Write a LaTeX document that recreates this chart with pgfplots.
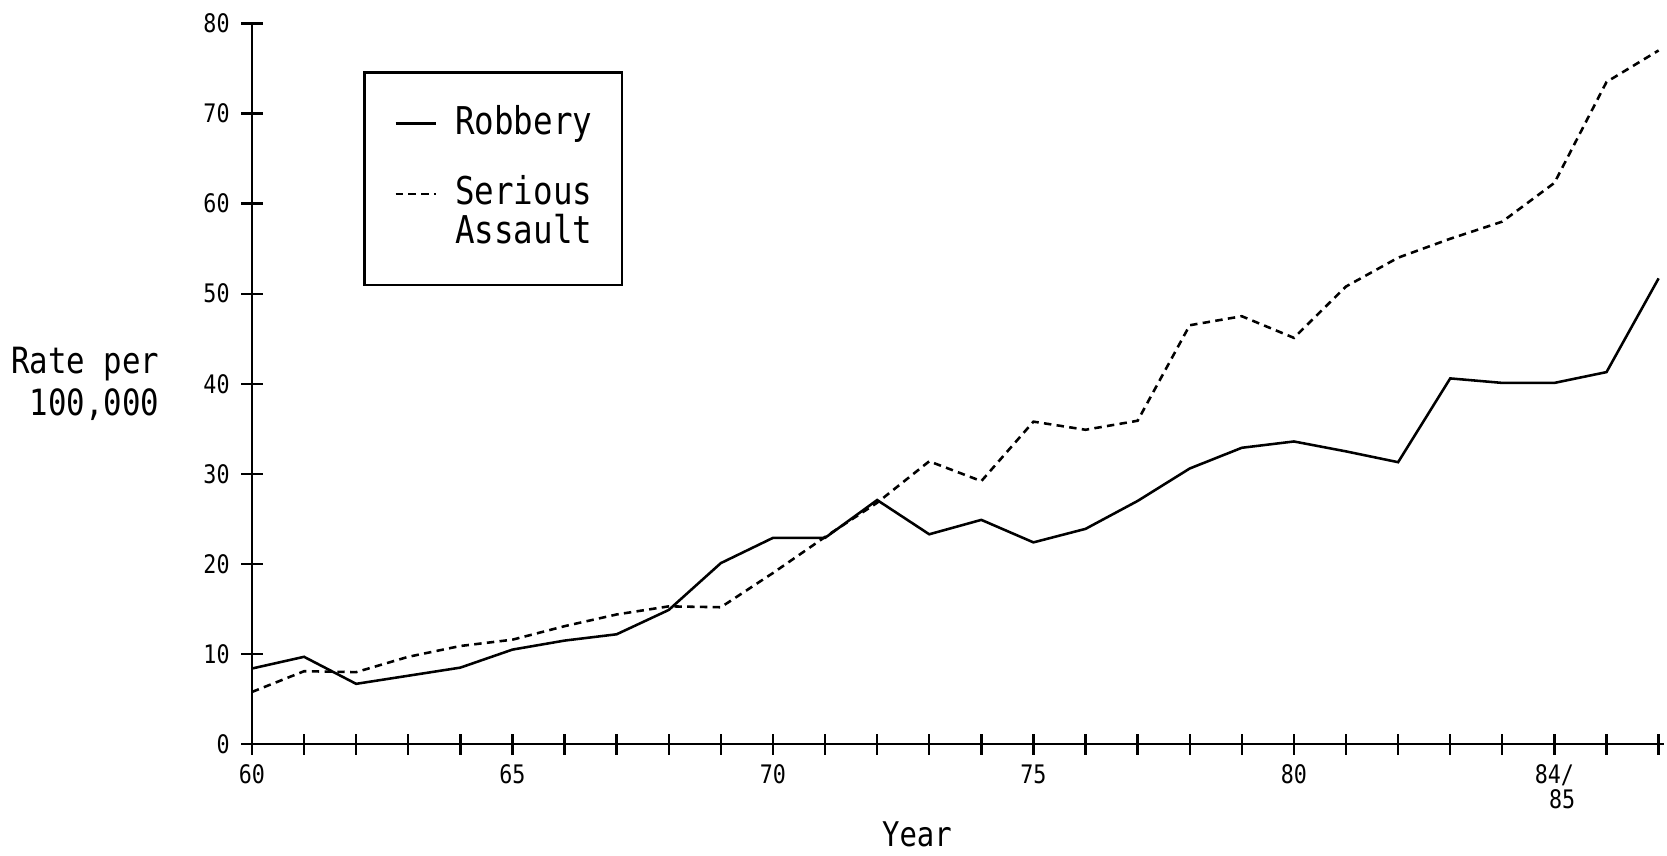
\documentclass[border=0pt]{standalone}
\usepackage{pgfplots}
\pgfplotsset{compat=1.18}
\usepackage{pgfplotstable}
\usepackage{fontspec}
\setmainfont[FakeStretch=0.85]{DejaVu Sans Mono}

\pgfplotstableread{
year rate
60 8.4
61 9.7
62 6.7
63 7.6
64 8.5
65 10.5
66 11.5
67 12.2
68 14.9
69 20.1
70 22.9
71 22.9
72 27.1
73 23.3
74 24.9
75 22.4
76 23.9
77 27.0
78 30.6
79 32.9
80 33.6
81 32.5
82 31.3
83 40.6
84 40.1
85 40.1
86 41.3
87 51.7
}\robbery

\pgfplotstableread{
year rate
60 5.8
61 8.1
62 8.0
63 9.7
64 10.9
65 11.6
66 13.1
67 14.4
68 15.3
69 15.2
70 19.0
71 23.0
72 26.8
73 31.4
74 29.2
75 35.8
76 34.9
77 35.9
78 46.5
79 47.5
80 45.1
81 50.8
82 54.0
83 56.1
84 58.0
85 62.3
86 73.5
87 77.0
}\assault

\begin{document}
\begin{tikzpicture}
\path[use as bounding box] (-118.5pt,-52.5pt) rectangle (665.5pt,350pt);
\begin{axis}[
  at={(0pt,0pt)}, anchor=south west,
  scale only axis, width=664pt, height=339pt,
  xmin=60, xmax=87.1, ymin=0, ymax=80,
  axis x line*=bottom, axis y line*=left,
  axis line style={-, line width=1.1pt},
  every tick/.style={black, line width=1.1pt},
  tick align=center, major tick length=10pt,
  xtick={60,...,87},
  xticklabels={60,,,,,65,,,,,70,,,,,75,,,,,80,,,,,{84/\\\hspace*{0.6em}85},,},
  xticklabel style={align=center, font=\fontsize{12}{12}\selectfont, yshift=-1pt},
  ytick={0,10,...,80},
  yticklabel style={font=\fontsize{12}{12}\selectfont, xshift=-2pt},
  /pgf/number format/assume math mode=true,
  xlabel={Year},
  xlabel style={font=\fontsize{16}{18}\selectfont, at={(rel axis cs:0.471,0)}, anchor=north, yshift=-33pt},
  ylabel={Rate per\\100,000},
  ylabel style={font=\fontsize{17}{20}\selectfont, rotate=-90, align=right, at={(rel axis cs:0,0.5)}, anchor=east, xshift=-40pt},
  legend cell align=left,
  legend style={at={(rel axis cs:0.079,0.9336)}, anchor=north west,
    draw=black, line width=1.1pt, font=\fontsize{18}{20}\selectfont,
    inner xsep=14pt, inner ysep=4pt, row sep=0pt, column sep=8.5pt,
    nodes={inner sep=0pt, text depth=}, cells={anchor=base west}},
  legend image code/.code={\draw[#1, line width=1.1pt] (0pt,5pt) -- (19pt,5pt);},
  clip=false,
]
\addplot[black, line width=1.2pt] table[x=year, y=rate] {\robbery};
\addlegendentry{\rule[-19.5pt]{0pt}{44.5pt}Robbery}
\addplot[black, line width=1.2pt, dash pattern=on 3.5pt off 2.5pt] table[x=year, y=rate] {\assault};
\addlegendentry{\rule[-4.5pt]{0pt}{17.5pt}Serious}
\addlegendimage{empty legend}
\addlegendentry{\rule[-15.5pt]{0pt}{28.5pt}Assault}
\end{axis}
\end{tikzpicture}
\end{document}
